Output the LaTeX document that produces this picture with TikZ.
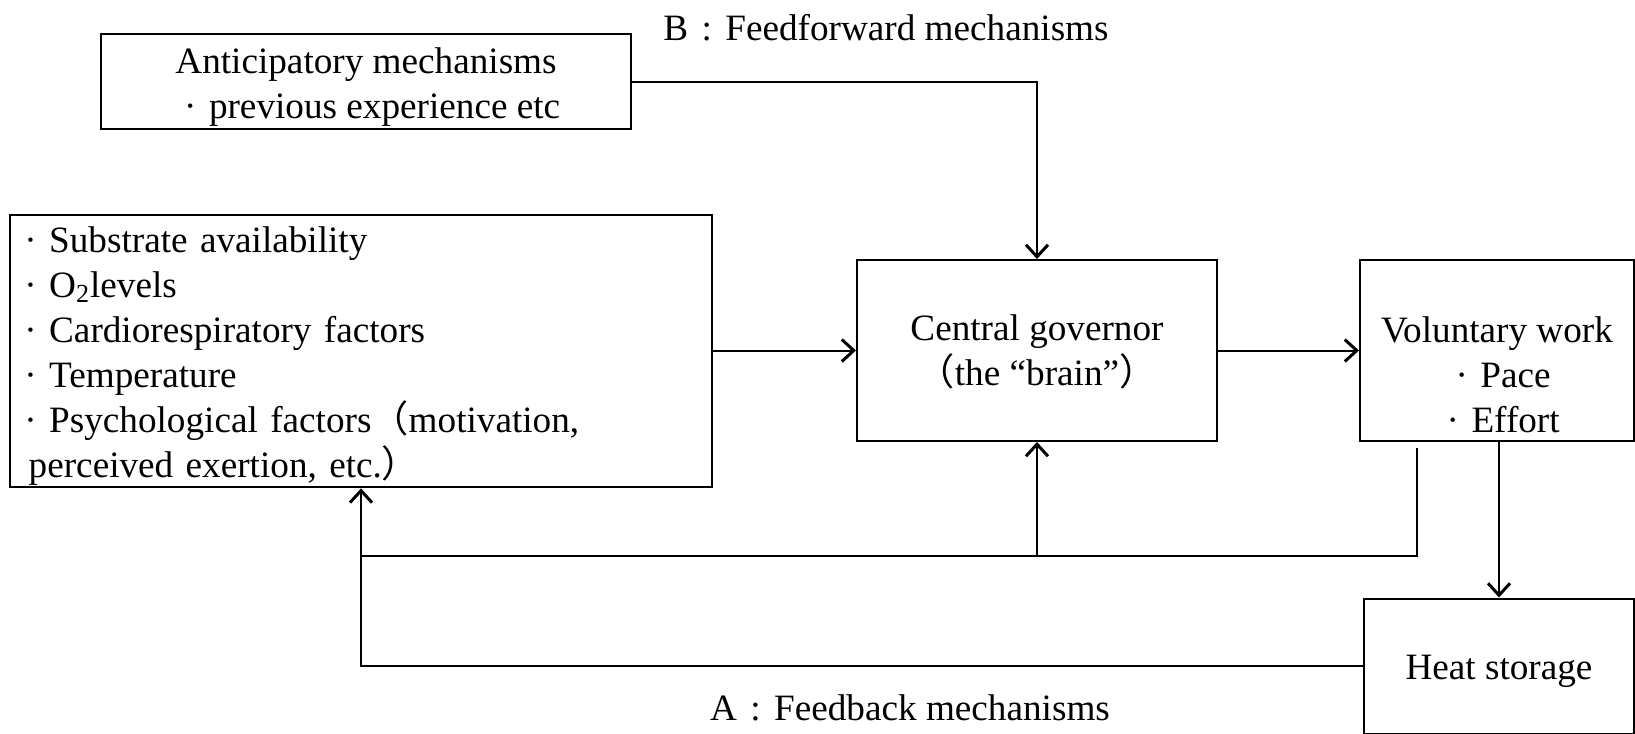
\documentclass[tikz,border=0pt]{standalone}
\usepackage{fontspec}
\setmainfont{Liberation Serif}
\newfontfamily\jpfont{Noto Sans CJK JP}
\usetikzlibrary{arrows.meta}
\newcommand{\bul}{\makebox[1em]{\textperiodcentered}}
\newcommand{\fwcolon}{\makebox[1em]{:}}
\newcommand{\lpar}{{\jpfont （}}
\newcommand{\rpar}{{\jpfont ）}}
\newcommand{\lowstrut}[1]{\rule{0pt}{#1}}

\begin{document}
\begin{tikzpicture}[x=0.5pt,y=-0.5pt,
	font=\fontsize{18.6}{22.5}\selectfont,
	box/.style={draw, line width=1pt, inner sep=1pt},
	flow/.style={line width=1pt, -{Straight Barb[length=6pt,width=11pt,line width=1.5pt]}},
	link/.style={line width=1pt}]

	\useasboundingbox (0,0) rectangle (1635,734);

	% boxes
	\node[box, minimum width=265pt, minimum height=45.5pt, align=center] (antic) at (366,81.5) {\lowstrut{18.9pt}Anticipatory mechanisms\\\bul previous experience etc};
	\node[box, text width=349pt, minimum height=135pt, align=left] (factors) at (361,351) {\lowstrut{17.9pt}\bul Substrate availability\\\bul O\textsubscript{2}levels\\\bul Cardiorespiratory factors\\\bul Temperature\\\bul Psychological factors\lpar motivation,\\\hspace{0.45em}perceived exertion, etc.\rpar};
	\node[box, minimum width=180pt, minimum height=90.5pt, align=center] (central) at (1037,350.5) {\lowstrut{14.7pt}Central governor\\\lpar the ``brain''\rpar};
	\node[box, minimum width=137pt, minimum height=90.5pt] (vol) at (1497,350.5) {};
	\node[align=center] (voltext) at (1497,375) {Voluntary work\\\bul Pace\\\bul Effort};
	\node[box, minimum width=135pt, minimum height=67.5pt] (heat) at (1499,666) {\lowstrut{17.9pt}Heat storage};

	% labels
	\node (ffwd) at (886,28) {B\fwcolon Feedforward mechanisms};
	\node (fback) at (910,708) {A\fwcolon Feedback mechanisms};

	% connectors
	\coordinate (vtap) at (1417,448);
	\coordinate (fb) at (361,556);
	\draw[flow] (antic.east) -| (central.north);
	\draw[flow] (factors.east |- central.west) -- (central.west);
	\draw[flow] (central.east) -- (vol.west);
	\draw[flow] (heat.north |- vol.south) -- (heat.north);
	\draw[flow] (vtap) |- (fb) -- (factors.south);
	\draw[flow] (central.south |- fb) -- (central.south);
	\draw[link] (heat.west) -| (fb);
\end{tikzpicture}
\end{document}
